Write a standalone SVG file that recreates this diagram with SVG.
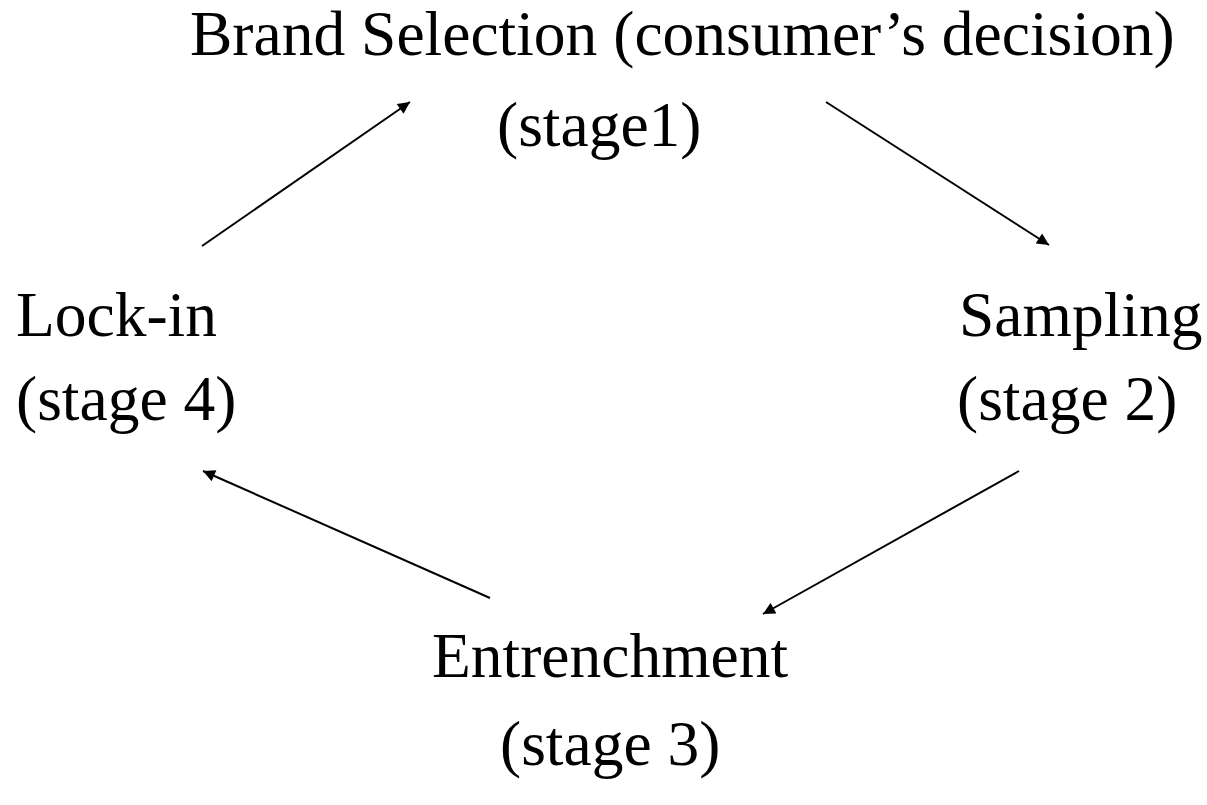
<svg xmlns="http://www.w3.org/2000/svg" width="1207" height="805" viewBox="0 0 1207 805">
<style>
.t{font-family:"Liberation Serif","Times New Roman",serif;font-size:63.5px;fill:#000}
.c{stroke:#000;stroke-width:2;fill:none;marker-end:url(#ah)}
</style>
<defs>
<marker id="ah" viewBox="0 0 10 10" refX="10" refY="5" markerWidth="14" markerHeight="12" markerUnits="userSpaceOnUse" orient="auto">
<path d="M0,0 L10,5 L0,10 z" fill="#000"/>
</marker>
</defs>
<rect width="1207" height="805" fill="#fff"/>
<g id="stage1"><text class="t" x="190" y="55">Brand Selection (consumer’s decision)</text><text class="t" x="497" y="146">(stage1)</text></g>
<g id="stage2"><text class="t" x="959" y="336">Sampling</text><text class="t" x="957" y="420">(stage 2)</text></g>
<g id="stage3"><text class="t" x="432" y="677">Entrenchment</text><text class="t" x="500" y="765">(stage 3)</text></g>
<g id="stage4"><text class="t" x="16" y="336">Lock-in</text><text class="t" x="16" y="420">(stage 4)</text></g>
<g id="connectors">
<line class="c" x1="202" y1="246" x2="410" y2="102"/>
<line class="c" x1="826" y1="102" x2="1049" y2="245"/>
<line class="c" x1="1019" y1="471" x2="763" y2="614"/>
<line class="c" x1="490" y1="598" x2="203" y2="471"/>
</g>
</svg>
